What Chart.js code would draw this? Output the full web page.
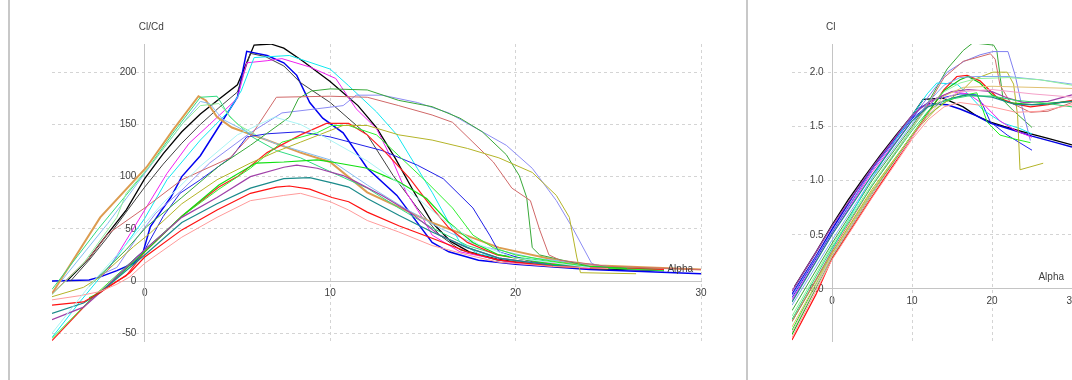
<!DOCTYPE html>
<html>
<head>
<meta charset="utf-8">
<script src="https://cdn.jsdelivr.net/npm/chart.js@4/dist/chart.umd.min.js"></script>
<style>
  html, body { margin: 0; padding: 0; background: #fff; overflow: hidden; }
  body { width: 1072px; height: 380px; position: relative; }
  .sep { position: absolute; top: 0; width: 2px; height: 380px; background: #c8c8c8; }
  canvas { position: absolute; top: 0; }
</style>
</head>
<body>
<div class="sep" style="left:8px"></div>
<div class="sep" style="left:746px"></div>
<canvas id="ratioChart" width="745" height="380" style="left:0"></canvas>
<canvas id="liftChart" width="370" height="380" style="left:750px"></canvas>
<script>
// Cl/Cd vs Alpha, one [alpha, value] list per polar
const ratioBlack = [[-4.2,0],[-3,22],[-2.4,36],[-1,68],[0,98],[1,122],[2,143],[3,160],[4,174],[5,188],[5.9,226],[6.8,227],[7.5,223],[8.5,211],[10,191],[11.5,168],[12.5,147],[13.5,118],[14.5,86],[15.5,56],[16.5,38],[17.5,28],[19,21],[21,16],[24,12],[28,10]];
const ratioGray = [[-4,0],[-3,20],[-2,42],[-1,66],[0,90],[1,112],[2,132],[3,150],[4,166],[5,181],[5.7,218],[6.5,215],[7.5,206],[8.4,190],[10,171],[12,140],[13.4,101],[14.7,70],[15.9,44],[17,30],[19,20],[22,14],[25,11]];
const ratioBlue = [[-5,0],[-4,0.5],[-3,1],[-2.4,4],[-1.5,10],[-0.6,17],[-0.1,27],[0.3,52],[0.8,65],[1.4,80],[2,100],[3,120],[4,148],[5,176],[5.5,220],[6.6,216],[7.5,209],[8.2,197],[8.9,171],[9.6,156],[10.7,142],[12,108],[13.6,82],[14.7,56],[15.5,37],[16.4,28],[18,20],[20,16],[24,11],[30,7]];
const ratioBlueMid = [[-1,14],[0,30],[1,62],[1.9,84],[3,97],[4.7,119],[5.5,138],[6.6,141],[8.4,143],[10,138],[12.8,125],[14.7,111],[16.1,98],[17.7,70],[18.6,44],[19.1,28],[21,18],[24,13],[28,10]];
const ratioCyan = [[-5,-54],[-3.5,-20],[-1.5,23],[0,60],[1.2,97],[3,135],[4.5,162],[5.2,182],[5.9,214],[7.8,216],[10,203],[11,187],[12.5,162],[13.6,140],[14.7,108],[15.5,85],[16.4,56],[17,37],[18,26],[20,19],[23,14],[27,11]];
const ratioMagenta = [[-2.5,2],[-2,10],[-1,39],[0,68],[1.2,103],[2.4,132],[3.5,150],[5,175],[5.5,209],[6.6,211],[7.4,213],[8.9,205],[10.3,194],[11.4,165],[12.5,146],[13.4,114],[14.1,85],[15,60],[15.5,44],[17,28],[20,17],[24,12]];
const ratioRedA = [[-5,-57],[-2.6,-12],[-1,5],[0,28],[2,62],[4,90],[5,100],[6.6,123],[8.4,140],[9.8,151],[11,151],[12,140],[13,123],[14.3,98],[15.5,70],[16.4,51],[17.4,37],[19,25],[21,19],[24,13],[28,11]];
const ratioRedB = [[-5,-23],[-3.3,-20],[-2.4,-11],[-0.8,8],[0,23],[2,49],[3.9,68],[5.7,84],[7.1,90],[7.8,91],[8.9,88],[10.1,80],[11,76],[12,66],[13.7,53],[15.5,41],[17.4,28],[19.1,20],[22,14],[25,12]];
const ratioPink = [[-5,-18],[-3.5,-14],[-2.4,-10],[-1.5,-3],[-0.8,4],[0,17],[2,42],[3.9,61],[5.7,77],[7.5,82],[8.4,84],[10,76],[11,68],[12,58],[13.7,47],[15.5,34],[17.4,25],[19.1,18],[22,14],[25,12]];
const ratioTeal = [[-5,-31],[-3.3,-21],[-2.4,-11],[0,25],[2,56],[3.9,74],[5.7,89],[7.5,98],[8.9,99],[10.1,94],[11,90],[12,79],[13.7,63],[15.5,47],[17.4,32],[19.1,22],[22,15],[25,12]];
const ratioPurple = [[-5,-37],[-3.3,-25],[-2.4,-11],[0,30],[2,61],[3.9,80],[5.7,100],[7.5,109],[8.2,111],[9.3,108],[10.7,101],[11.4,95],[12.8,82],[14.3,66],[15.9,44],[17.4,32],[19.1,22],[22,15],[25,12]];
const ratioLime = [[-3,-16],[-2.4,-11],[0,28],[2,62],[4,92],[6,113],[7.5,114],[9.3,116],[10.1,114],[12,108],[13.7,95],[15.2,79],[16.4,56],[17.7,37],[19.1,25],[22,16],[26,12]];
const ratioLime2 = [[-5,-55],[-2.6,-12],[0,30],[2,62],[4,88],[5.7,108],[7.4,133],[9.3,142],[10.1,149],[11,149],[12.5,140],[13.7,120],[15.2,95],[16.6,70],[17.7,44],[18.8,32],[20,25],[24,13],[28,10]];
const ratioOlive = [[-5,-15],[-3.3,-6],[-2.4,4],[-0.6,33],[0.3,46],[2,74],[3.9,97],[5.7,113],[7.1,124],[8.4,133],[10.7,149],[12,149],[13.7,140],[15.5,135],[17.4,127],[19.1,118],[20.9,104],[22.2,82],[22.9,61],[23.3,23],[23.5,8],[26.5,7]];
const ratioRosy = [[-5,-12],[-4,5],[-3,22],[-2,45],[0,70],[2,97],[4.6,118],[5.8,141],[7.1,176],[10,177],[12,176],[13.7,168],[15.5,159],[16.6,152],[17.7,133],[18.8,114],[19.8,89],[20.8,77],[21.3,49],[21.8,25],[22.4,20],[25,14],[30,11]];
const ratioGreen = [[-3,-5],[-1,30],[0.1,52],[2,80],[4,110],[5.7,130],[7.8,157],[8.3,175],[9,182],[10,184],[12,183],[13.7,173],[15.5,167],[17,156],[18.2,143],[19.5,121],[20.2,101],[20.6,80],[20.9,32],[21.3,25],[24,14],[28,11]];
const ratioPeri = [[-2.5,5],[-1.5,13],[-0.4,42],[0.6,65],[2,87],[3.5,113],[5.7,142],[7.4,161],[9.3,165],[10.7,168],[11.4,178],[12.8,178],[14.7,171],[16.4,161],[17.9,146],[19.5,130],[20.9,108],[22.2,77],[23.1,50],[24.1,17],[24.4,15]];
const ratioOrange = [[-5,-12],[-2.4,61],[0.1,109],[1.5,144],[2.9,177],[3.3,173],[3.9,157],[4.7,147],[6.6,135],[8.4,123],[10,114],[12,85],[15.5,56],[19.1,32],[22.7,18],[24.5,15],[30,11]];
const ratioSky = [[-4.5,0],[-2,55],[0,103],[2,150],[3,172],[3.5,170],[4.2,155],[5.5,143],[7,132],[10,116],[12,92],[14,70],[16,50],[18,34],[21,22],[25,14]];
const ratioSea = [[-5,-8],[-2.5,50],[0.1,106],[1.5,141],[3,176],[3.9,177],[4.6,157],[5.8,138],[7.1,125],[8.4,118],[10.1,104],[12,89],[13.7,70],[15.5,51],[17.4,34],[19.1,25],[24,14],[28,11]];
const ratioMint = [[-5,-13],[-3.3,17],[-1.5,61],[-1,84],[0.5,115],[2,150],[3,168],[4,170],[5,150],[6,140]];
const ratioPaleCyan = [[-5,-50],[-3,-5],[-1,35],[1,75],[3,110],[5,140],[7,157],[8.4,150],[10,135],[12,115],[14,90],[16,60],[18,35],[20,22],[24,13]];

// Cl vs Alpha
const liftBlack = [[-4.7,0.02],[-2,0.34],[0,0.59],[2,0.82],[4,1.03],[6,1.23],[8,1.42],[10,1.6],[11.4,1.75],[13.9,1.76],[16.4,1.68],[18,1.6],[19.8,1.54],[21.5,1.5],[23.9,1.45],[27,1.39],[30,1.33]];
const liftBlue = [[-5,-0.05],[-2,0.3],[0,0.55],[3,0.9],[6,1.21],[9,1.49],[11,1.67],[12,1.71],[14.4,1.7],[16,1.66],[18,1.6],[19.8,1.53],[22,1.48],[25,1.41],[28,1.35],[30,1.31]];
const liftBlue2 = [[-5,-0.08],[0,0.52],[5,1.1],[10,1.57],[13,1.75],[16,1.8],[18.1,1.79],[18.9,1.69],[19.8,1.54],[21.9,1.42],[25,1.28]];
const liftCyan = [[-5,-0.3],[-2,0.08],[0,0.36],[4,0.9],[8,1.38],[10,1.6],[11.9,1.8],[13.1,1.9],[15.6,1.89],[17,1.8],[18.9,1.65],[21.4,1.53],[23.5,1.48],[25,1.43]];
const liftMagenta = [[-5,-0.1],[0,0.5],[5,1.08],[10,1.55],[13,1.76],[15,1.82],[17,1.8],[19,1.7],[21,1.55],[23,1.46],[25,1.4]];
const liftPeri = [[-5,-0.06],[0,0.53],[5,1.1],[10,1.58],[12,1.77],[14.4,2.0],[16.5,2.1],[18.5,2.16],[20.1,2.19],[22,2.19],[22.9,1.97],[23.9,1.63],[24.8,1.37]];
const liftGreen = [[-5,-0.2],[0,0.42],[5,1.0],[10,1.5],[12,1.72],[14.4,2.03],[16.4,2.2],[17.6,2.27],[20.2,2.25],[20.6,2.2],[21.4,1.74],[22.6,1.65],[25,1.49]];
const liftRosy = [[-5,-0.3],[0,0.35],[5,0.95],[10,1.48],[12,1.7],[14,1.95],[16.4,2.1],[19.8,2.17],[20.4,2.12],[21,1.88],[22.3,1.72],[24.8,1.63],[27,1.64],[30,1.72]];
const liftOlive = [[-5,-0.3],[0,0.33],[5,0.92],[10,1.42],[13,1.66],[16.4,1.84],[17.6,1.93],[20.1,2.0],[21.9,2.0],[22.7,1.89],[23.2,1.6],[23.5,1.1],[26.4,1.16]];
const liftRed = [[-5,-0.47],[-2,-0.05],[0,0.28],[5,0.85],[10,1.4],[12,1.62],[14,1.84],[15.6,1.96],[16.9,1.97],[18.5,1.92],[20.6,1.77],[22.7,1.71],[24.8,1.68],[27,1.7],[30,1.74]];
const liftGreen2 = [[-5,-0.42],[0,0.3],[5,0.88],[10,1.42],[12,1.63],[14,1.83],[16,1.93],[17,1.96],[18.5,1.9],[20,1.79],[22,1.72],[25,1.7],[30,1.73]];
const liftMint = [[-5,-0.25],[0,0.4],[5,0.97],[10,1.48],[12,1.68],[14,1.82],[16,1.9],[18,1.94],[22,1.95],[26,1.93],[30,1.88]];
const liftSky = [[-5,-0.15],[0,0.45],[5,1.02],[10,1.52],[12,1.72],[14,1.88],[16,1.95],[18,1.96],[22,1.96],[26,1.93],[30,1.89]];
const liftTan = [[-5,-0.35],[0,0.32],[5,0.9],[10,1.42],[12,1.62],[14,1.78],[16.4,1.86],[20,1.87],[25,1.86],[30,1.85]];
const liftPink = [[-5,-0.4],[0,0.3],[5,0.88],[10,1.4],[12,1.6],[14,1.75],[16,1.82],[20,1.84],[25,1.8],[30,1.77]];
const liftPurple = [[-5,-0.02],[0,0.58],[5,1.12],[10,1.6],[12,1.72],[15,1.82],[17,1.84],[20,1.82],[22,1.76],[24,1.72],[27,1.73],[30,1.79]];
const liftTeal = [[-5,-0.12],[0,0.5],[5,1.05],[10,1.55],[12,1.68],[15,1.76],[17,1.79],[20,1.77],[23,1.7],[26,1.7],[30,1.73]];
const liftSalmon = [[-5,-0.45],[0,0.27],[5,0.84],[10,1.38],[12,1.56],[14,1.68],[16,1.72],[20,1.68],[23,1.63],[26,1.64],[30,1.7]];
const liftLime = [[-5,-0.38],[0,0.33],[5,0.9],[10,1.42],[12,1.6],[14,1.72],[16,1.78],[18.1,1.81],[19.4,1.54],[21,1.42],[23,1.38],[24.8,1.35]];
const liftSea = [[-5,-0.28],[0,0.38],[5,0.95],[10,1.46],[12,1.64],[14,1.74],[17,1.78],[20,1.78],[23,1.74],[26,1.72],[30,1.68]];

const alphaTicks = [0, 10, 20, 30];

// [data, colour, width]
const ratioSeries = [
    [ratioPaleCyan, '#a8f4f4', 1], [ratioMint, '#90ec9c', 1], [ratioPink, '#ff9a9a', 1],
    [ratioRedB, '#ff1010', 1.2], [ratioTeal, '#1a8a8a', 1.2], [ratioPurple, '#a040a8', 1.2],
    [ratioLime, '#10e010', 1.2], [ratioOlive, '#b4b428', 1], [ratioLime2, '#30f030', 1],
    [ratioRedA, '#ff2020', 1.2], [ratioRosy, '#d06868', 1], [ratioGreen, '#38a838', 1],
    [ratioPeri, '#8c8cf4', 1], [ratioBlueMid, '#2020e8', 1], [ratioSky, '#84bcf0', 1],
    [ratioSea, '#30dc80', 1], [ratioOrange, '#dc9c50', 2], [ratioCyan, '#10e8f0', 1],
    [ratioMagenta, '#f020f0', 1], [ratioGray, '#404040', 1], [ratioBlue, '#0000f0', 1.5],
    [ratioBlack, '#000000', 1.3]
];
const liftSeries = [
    [liftSalmon, '#ff9a9a', 1], [liftPink, '#f4a0c8', 1], [liftTan, '#e0c070', 1],
    [liftSea, '#30d870', 1], [liftTeal, '#1a8a8a', 1.2], [liftMint, '#90f09c', 1],
    [liftSky, '#80a8f0', 1], [liftPurple, '#a040a8', 1.2], [liftGreen2, '#10c010', 1.2],
    [liftRed, '#ff1010', 1.2], [liftRosy, '#d06868', 1], [liftOlive, '#b4b428', 1],
    [liftLime, '#20f020', 1], [liftMagenta, '#f020f0', 1], [liftCyan, '#10e8f0', 1],
    [liftPeri, '#8080f0', 1], [liftGreen, '#38a838', 1], [liftBlue2, '#2020f0', 1],
    [liftBlue, '#0000e0', 1.5], [liftBlack, '#000000', 1.3]
];

const fontFamily = '"Liberation Sans", Arial, sans-serif';

// axis captions: y name above the axis, "Alpha" above the x axis at the right end
const captions = {
    id: 'captions',
    afterDraw(chart, args, opts) {
        const { ctx, chartArea, scales } = chart;
        ctx.save();
        ctx.font = '10px ' + fontFamily;
        ctx.fillStyle = '#404040';
        ctx.textBaseline = 'middle';
        ctx.textAlign = 'left';
        ctx.fillText(opts.yTitle, scales.x.getPixelForValue(0) - 6, chartArea.top - 17);
        ctx.textAlign = 'right';
        ctx.fillText('Alpha', chartArea.right - 8, scales.y.getPixelForValue(0) - 12);
        ctx.restore();
    }
};

function makeChart(canvasId, series, yMin, yMax, yStep, yTitle, padding, yFormat) {
    const datasets = series.map(([pts, color, width]) => ({
        data: pts.map(([a, v]) => ({ x: a, y: v })),
        borderColor: color,
        borderWidth: width,
        pointRadius: 0,
        fill: false,
        tension: 0
    }));
    const tickFont = { family: fontFamily, size: 10 };
    return new Chart(document.getElementById(canvasId), {
        type: 'line',
        data: { datasets },
        plugins: [captions],
        options: {
            responsive: false,
            animation: false,
            layout: { padding },
            plugins: {
                legend: { display: false },
                tooltip: { enabled: false },
                captions: { yTitle }
            },
            scales: {
                x: {
                    type: 'linear',
                    min: -5,
                    max: 30,
                    position: { y: 0 },
                    afterBuildTicks: (axis) => { axis.ticks = alphaTicks.map(v => ({ value: v })); },
                    grid: { color: '#d4d4d4', drawTicks: false },
                    border: { color: '#c4c4c4', width: 1, dash: [3, 3] },
                    ticks: { font: tickFont, color: '#404040', padding: 6, maxRotation: 0 }
                },
                y: {
                    type: 'linear',
                    min: yMin,
                    max: yMax,
                    position: { x: 0 },
                    grid: { color: '#d4d4d4', drawTicks: false },
                    border: { color: '#c4c4c4', width: 1, dash: [3, 3] },
                    ticks: {
                        stepSize: yStep,
                        includeBounds: false,
                        font: tickFont,
                        color: '#404040',
                        // labels sit right-aligned on the axis line; trailing spaces keep a gap
                        callback: (v) => yFormat(v) + '   '
                    }
                }
            }
        }
    });
}

makeChart('ratioChart', ratioSeries, -57.4, 227, 50, 'Cl/Cd',
    { left: 52, right: 44, top: 44, bottom: 39 }, v => String(v));
makeChart('liftChart', liftSeries, -0.48, 2.26, 0.5, 'Cl',
    { left: 42, right: 48, top: 44, bottom: 39 }, v => v.toFixed(1));
</script>
</body>
</html>
